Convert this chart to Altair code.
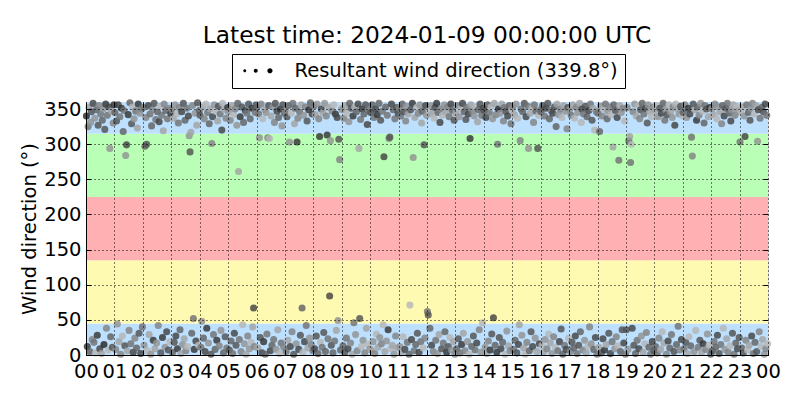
import altair as alt
import pandas as pd

title_text = "Latest time: 2024-01-09 00:00:00 UTC"
series_label = "Resultant wind direction (339.8°)"

band_lo = [0, 45, 135, 225, 315]
band_hi = [45, 135, 225, 315, 360]
band_colors = ["#bde0ff", "#fffab2", "#ffb0b2", "#b9ffb5", "#bde0ff"]

y_ticks = [0, 50, 100, 150, 200, 250, 300, 350]
x_ticks = list(range(25))

# wind direction samples per hour (degrees), in time order
h00 = [340, 12, 325, 352, 5, 331, 346, 22, 358, 18, 337, 3, 349, 28, 327, 355, 9, 343, 2, 334, 350, 15, 321, 357, 38, 341, 7, 353, 294, 26, 347, 11, 330, 356]
h01 = [345, 8, 333, 44, 356, 19, 339, 1, 351, 27, 318, 348, 13, 284, 299, 6, 342, 35, 359, 16, 329, 353, 4, 336, 24, 347, 10, 323, 357, 31, 344, 2, 350, 40]
h02 = [352, 14, 297, 338, 300, 6, 355, 29, 343, 1, 326, 349, 21, 358, 9, 335, 17, 346, 42, 332, 354, 3, 341, 25, 319, 357, 11, 348, 33, 336, 7, 351, 19, 344]
h03 = [349, 4, 337, 18, 356, 27, 343, 9, 330, 352, 36, 2, 346, 15, 358, 23, 334, 6, 351, 12, 340, 312, 289, 317, 31, 355, 52, 8, 344, 20, 327, 359, 14, 348]
h04 = [341, 11, 48, 353, 24, 336, 5, 357, 38, 345, 17, 329, 350, 1, 301, 339, 29, 356, 8, 347, 21, 333, 354, 13, 343, 35, 320, 358, 3, 349, 26, 337, 10, 352]
h05 = [346, 7, 334, 20, 355, 2, 342, 31, 350, 14, 327, 358, 261, 22, 339, 5, 353, 43, 331, 16, 348, 1, 344, 27, 357, 9, 336, 18, 351, 40, 67, 12, 345, 356]
h06 = [352, 10, 343, 309, 25, 357, 3, 336, 19, 349, 1, 345, 30, 309, 355, 308, 6, 340, 14, 353, 22, 331, 358, 8, 347, 36, 338, 2, 350, 17, 326, 356, 11, 344]
h07 = [348, 5, 339, 21, 355, 303, 12, 344, 33, 358, 1, 329, 351, 16, 303, 337, 8, 346, 28, 356, 67, 4, 341, 19, 353, 42, 333, 10, 349, 24, 359, 15, 343, 6]
h08 = [354, 9, 342, 27, 357, 2, 336, 311, 18, 350, 11, 345, 32, 358, 5, 340, 313, 23, 352, 84, 305, 14, 347, 3, 356, 20, 343, 35, 338, 49, 307, 278, 7, 351]
h09 = [349, 13, 337, 4, 355, 24, 344, 9, 332, 358, 17, 351, 1, 340, 46, 353, 29, 346, 6, 357, 294, 52, 335, 12, 350, 21, 343, 3, 356, 38, 328, 15, 348, 8]
h10 = [345, 7, 356, 19, 338, 2, 350, 30, 342, 11, 358, 25, 334, 16, 347, 43, 282, 5, 353, 20, 341, 36, 308, 310, 9, 357, 14, 349, 1, 336, 27, 352, 10, 344]
h11 = [351, 12, 340, 3, 357, 26, 346, 8, 333, 354, 18, 343, 1, 71, 349, 22, 358, 281, 6, 338, 15, 352, 31, 344, 4, 356, 19, 330, 347, 10, 299, 24, 355, 341]
h12 = [62, 57, 348, 38, 355, 14, 343, 5, 337, 352, 21, 358, 2, 345, 29, 331, 350, 9, 341, 17, 356, 33, 346, 4, 353, 12, 339, 25, 357, 7, 348, 19, 334, 1]
h13 = [344, 9, 355, 23, 339, 3, 350, 15, 358, 31, 346, 6, 335, 352, 19, 343, 1, 308, 356, 12, 347, 27, 340, 7, 353, 17, 332, 349, 36, 357, 4, 341, 46, 351]
h14 = [348, 11, 338, 2, 356, 20, 345, 7, 353, 30, 336, 53, 358, 14, 342, 4, 300, 350, 25, 344, 9, 357, 18, 333, 352, 1, 347, 34, 340, 13, 355, 6, 329, 349]
h15 = [353, 8, 342, 21, 357, 3, 337, 15, 43, 305, 350, 28, 346, 10, 358, 1, 339, 18, 354, 294, 6, 344, 33, 351, 12, 331, 356, 24, 347, 5, 294, 341, 16, 349]
h16 = [346, 13, 355, 4, 340, 22, 351, 9, 358, 30, 336, 17, 348, 2, 344, 26, 353, 11, 325, 357, 6, 342, 19, 350, 37, 338, 1, 355, 14, 347, 8, 322, 352, 24]
h17 = [349, 5, 341, 18, 356, 10, 337, 27, 352, 2, 345, 14, 358, 33, 331, 350, 7, 343, 21, 354, 3, 339, 12, 348, 40, 357, 16, 334, 351, 8, 320, 25, 346, 1]
h18 = [344, 11, 318, 354, 3, 340, 23, 350, 7, 357, 15, 336, 347, 31, 353, 2, 342, 19, 296, 356, 9, 348, 26, 338, 13, 277, 355, 5, 345, 36, 351, 17, 333, 1]
h19 = [36, 352, 8, 305, 311, 274, 300, 38, 346, 14, 357, 2, 340, 21, 355, 9, 336, 349, 27, 358, 4, 343, 16, 351, 32, 330, 356, 11, 347, 1, 339, 19, 353, 6]
h20 = [348, 12, 355, 3, 339, 24, 351, 8, 344, 33, 358, 17, 334, 349, 1, 342, 20, 356, 10, 346, 29, 338, 353, 5, 327, 357, 15, 350, 41, 343, 7, 354, 22, 340]
h21 = [345, 9, 356, 18, 338, 2, 351, 26, 343, 13, 310, 283, 357, 5, 349, 35, 334, 353, 11, 341, 21, 358, 4, 347, 16, 330, 355, 8, 350, 30, 339, 14, 352, 1]
h22 = [350, 6, 342, 19, 357, 11, 336, 28, 353, 2, 346, 15, 329, 355, 38, 340, 8, 351, 23, 358, 4, 344, 13, 333, 349, 31, 356, 1, 341, 17, 354, 9, 347, 25]
h23 = [303, 348, 10, 353, 3, 340, 311, 21, 356, 7, 345, 14, 334, 351, 27, 358, 2, 343, 18, 355, 5, 304, 349, 33, 337, 12, 352, 22, 346, 1, 357, 9, 341, 16]

# grey shade of each sample (0 = black ... 9 = light grey)
s00 = "015847362579413625847031659274836145"
s01 = "463728561945372816453927654813726594"
s02 = "574639285746138574629351867425369178"
s03 = "648372915648273846592738465172839465"
s04 = "357846291574836257491836572948365172"
s05 = "736485926374851639472856374918265374"
s06 = "485736291847563928475637284915736482"
s07 = "653847296538471625384972653817462539"
s08 = "528374619258374615827364951827364958"
s09 = "746385927463815974628359174638295746"
s10 = "384756291847365928475163928475638291"
s11 = "675849326758493217584936275849362758"
s12 = "539472869351748263957481635927483615"
s13 = "846375912846357291846375928463759284"
s14 = "372846519372846150372846593728465937"
s15 = "658473928657483926574839265748392657"
s16 = "493857263948572639485726394857263948"
s17 = "765384926573849265738492657384926573"
s18 = "584736291584736295847362958473629584"
s19 = "367485926374859263748592637485926374"
s20 = "849576382948576329485763294857632948"
s21 = "456378192456378914563789145637891456"
s22 = "738564927385649273856492738564927385"
s23 = "594837265948372659483726594837265948"

hour_dirs = [h00, h01, h02, h03, h04, h05, h06, h07, h08, h09, h10, h11,
             h12, h13, h14, h15, h16, h17, h18, h19, h20, h21, h22, h23]
hour_shades = [s00, s01, s02, s03, s04, s05, s06, s07, s08, s09, s10, s11,
               s12, s13, s14, s15, s16, s17, s18, s19, s20, s21, s22, s23]

rows = []
for h, (dirs, shades) in enumerate(zip(hour_dirs, hour_shades)):
    n = len(dirs)
    for i, (d, s) in enumerate(zip(dirs, shades)):
        rows.append({"hour": h + (i + 0.5) / n, "dir": d, "shade": int(s)})
points_df = pd.DataFrame(rows)

bands_df = pd.DataFrame({"lo": band_lo, "hi": band_hi, "col": band_colors})
legend_df = pd.DataFrame({"hour": [12], "dir": [180], "series": [series_label]})

FONT = "DejaVu Sans"
FS = 19.5
TICK = 5

x_scale = alt.Scale(domain=[0, 24], nice=False, zero=False)
y_scale = alt.Scale(domain=[0, 360], nice=False, zero=False)

# main axes: labels, grid, title
x_axis = alt.Axis(
    values=x_ticks,
    labelExpr="(datum.value % 24) < 10 ? '0' + (datum.value % 24) : '' + (datum.value % 24)",
    title=None,
    labelFontSize=FS, labelFont=FONT, labelColor="black",
    labelOverlap=False, labelFlush=False, labelPadding=7,
    ticks=False, tickSize=0,
    grid=True, gridDash=[1, 3], gridColor="black", gridWidth=1, gridOpacity=1,
    domain=True, domainColor="black", zindex=1,
)
y_axis = alt.Axis(
    values=y_ticks,
    title="Wind direction (°)",
    titleFontSize=FS, titleFont=FONT, titleFontWeight="normal", titleColor="black",
    titlePadding=4,
    labelFontSize=FS, labelFont=FONT, labelColor="black",
    labelOverlap=False, labelFlush=False, labelPadding=5,
    ticks=False, tickSize=0,
    grid=True, gridDash=[1, 3], gridColor="black", gridWidth=1, gridOpacity=1,
    domain=True, domainColor="black", zindex=1,
)


def tick_axis(values, orient):
    # inward tick marks drawn by an axis shifted into the plot
    return alt.Axis(
        values=values, orient=orient, offset=-TICK, title=None,
        labels=False, grid=False, domain=False,
        ticks=True, tickSize=TICK, tickColor="black", tickWidth=1, zindex=1,
    )


bands = alt.Chart(bands_df).mark_rect().encode(
    x=alt.datum(0, scale=x_scale, axis=x_axis),
    x2=alt.datum(24),
    y=alt.Y("lo:Q", scale=y_scale, axis=y_axis),
    y2="hi:Q",
    fill=alt.Fill("col:N", scale=None),
)

points = alt.Chart(points_df).mark_circle(size=50, opacity=0.82).encode(
    x=alt.X("hour:Q", scale=x_scale, axis=tick_axis(x_ticks, "bottom")),
    y=alt.Y("dir:Q", scale=y_scale, axis=tick_axis(y_ticks, "left")),
    color=alt.Color("shade:Q", scale=alt.Scale(domain=[0, 9], range=["#262626", "#b6b6b6"]), legend=None),
)

dots_path = ("M -1.375,0 a 0.375,0.375 0 1,0 0.75,0 a 0.375,0.375 0 1,0 -0.75,0 Z "
             "M 1.25,0 a 0.5,0.5 0 1,0 1,0 a 0.5,0.5 0 1,0 -1,0 Z "
             "M 4.65,0 a 0.65,0.65 0 1,0 1.3,0 a 0.65,0.65 0 1,0 -1.3,0 Z")

legend_layer = alt.Chart(legend_df).mark_point(
    filled=True, size=0, opacity=0, color="black"
).encode(
    x=alt.X("hour:Q", scale=x_scale, axis=tick_axis(x_ticks, "top")),
    y=alt.Y("dir:Q", scale=y_scale, axis=tick_axis(y_ticks, "right")),
    shape=alt.Shape(
        "series:N",
        scale=alt.Scale(range=[dots_path]),
        legend=alt.Legend(
            title=None, orient="none", legendX=146, legendY=-48,
            labelFont=FONT, labelFontSize=FS, labelColor="black", labelLimit=500,
            labelOffset=36, symbolSize=64, symbolFillColor="black",
            symbolStrokeColor="black", symbolStrokeWidth=0, symbolOpacity=1,
            strokeColor="black", fillColor="white", padding=7, cornerRadius=0,
        ),
    ),
)

chart = alt.layer(bands, points, legend_layer).resolve_axis(
    x="independent", y="independent"
).properties(
    width=682, height=253,
    autosize=alt.AutoSizeParams(type="none"),
    padding={"left": 78, "top": 94, "right": 24, "bottom": 45},
    title=alt.TitleParams(
        text=title_text, font=FONT, fontSize=23.3, fontWeight="normal",
        color="black", anchor="middle", offset=5,
    ),
).configure_view(
    stroke="black", strokeWidth=1
).configure(font=FONT)

chart.save("out.html", embed_options={"renderer": "svg", "actions": False})
